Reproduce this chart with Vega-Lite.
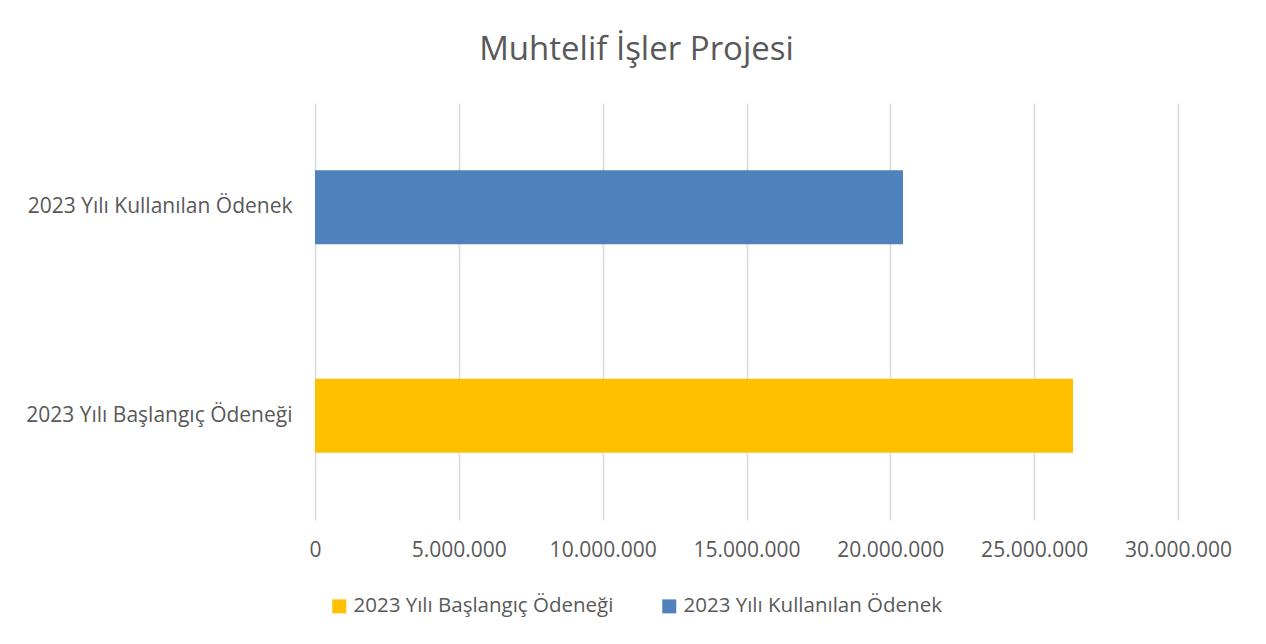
{
  "$schema": "https://vega.github.io/schema/vega-lite/v6.json",
  "width": 863,
  "height": 417,
  "autosize": "none",
  "padding": {"left": 315, "top": 103, "right": 88, "bottom": 124},
  "background": "white",
  "title": {
    "text": "Muhtelif İşler Projesi",
    "anchor": "middle",
    "dx": -110,
    "offset": 36,
    "fontSize": 33,
    "font": "Open Sans",
    "fontWeight": "normal",
    "color": "#595959"
  },
  "data": {
    "values": [
      {"kalem": "2023 Yılı Kullanılan Ödenek", "tutar": 20440000},
      {"kalem": "2023 Yılı Başlangıç Ödeneği", "tutar": 26350000}
    ]
  },
  "mark": {"type": "bar"},
  "encoding": {
    "y": {
      "field": "kalem",
      "type": "nominal",
      "sort": ["2023 Yılı Kullanılan Ödenek", "2023 Yılı Başlangıç Ödeneği"],
      "scale": {"paddingInner": 0.644, "paddingOuter": 0.322},
      "axis": {
        "title": null,
        "domain": false,
        "ticks": false,
        "labelLimit": 0,
        "labelPadding": 23,
        "labelFontSize": 21,
        "labelFont": "Open Sans",
        "labelColor": "#595959"
      }
    },
    "x": {
      "field": "tutar",
      "type": "quantitative",
      "scale": {"domain": [0, 30000000], "nice": false},
      "axis": {
        "title": null,
        "values": [0, 5000000, 10000000, 15000000, 20000000, 25000000, 30000000],
        "format": ",d",
        "domain": false,
        "ticks": false,
        "grid": true,
        "gridColor": "#d9d9d9",
        "gridWidth": 1.5,
        "labelFlush": false,
        "labelOverlap": false,
        "labelPadding": 19,
        "labelFontSize": 21,
        "labelFont": "Open Sans",
        "labelColor": "#595959"
      }
    },
    "color": {
      "field": "kalem",
      "type": "nominal",
      "scale": {
        "domain": ["2023 Yılı Başlangıç Ödeneği", "2023 Yılı Kullanılan Ödenek"],
        "range": ["#FFC000", "#4F81BD"]
      },
      "legend": {
        "title": null,
        "orient": "none",
        "direction": "horizontal",
        "legendX": 14,
        "legendY": 493,
        "symbolType": "square",
        "symbolSize": 196,
        "symbolStrokeWidth": 0,
        "labelLimit": 0,
        "labelFontSize": 20.5,
        "labelFont": "Open Sans",
        "labelColor": "#595959",
        "labelOffset": 4,
        "columnPadding": 45
      }
    }
  },
  "config": {
    "locale": {
      "number": {"decimal": ",", "thousands": ".", "grouping": [3], "currency": ["", " ₺"]}
    },
    "view": {"stroke": null}
  }
}
